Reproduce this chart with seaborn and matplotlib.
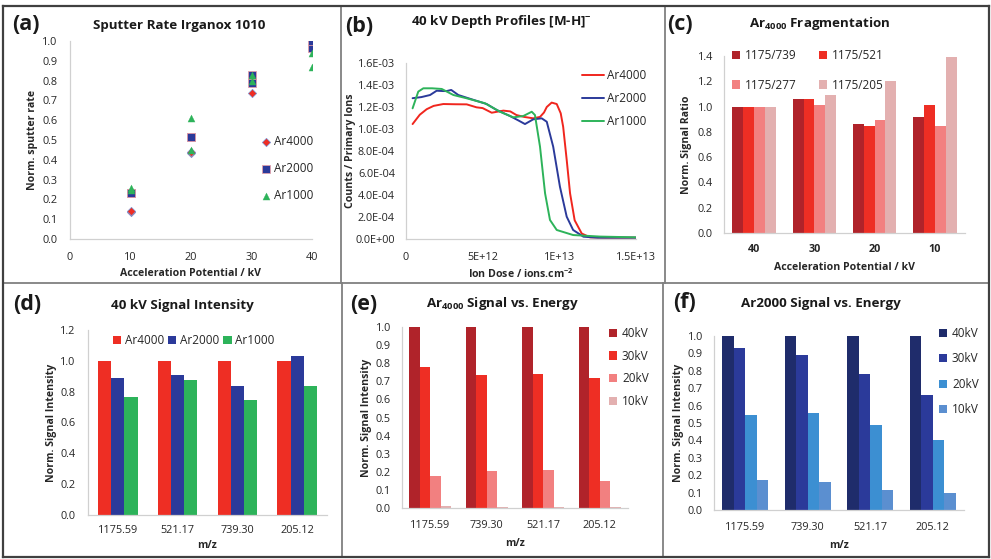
import matplotlib
matplotlib.use("Agg")
import matplotlib.pyplot as plt
import seaborn as sns
import pandas as pd
from matplotlib.ticker import FuncFormatter
from matplotlib.lines import Line2D

# ---------------- data ----------------
# (a) Sputter rate Irganox 1010
a_kv_ar4000 = [10, 10, 20, 20, 30, 40]
a_rate_ar4000 = [0.135, 0.14, 0.435, 0.44, 0.735, 1.0]
a_kv_ar2000 = [10, 10, 20, 20, 30, 30, 40, 40]
a_rate_ar2000 = [0.23, 0.23, 0.515, 0.515, 0.79, 0.83, 0.965, 1.0]
a_kv_ar1000 = [10, 10, 20, 20, 30, 30, 40, 40]
a_rate_ar1000 = [0.26, 0.25, 0.61, 0.45, 0.83, 0.80, 0.94, 0.87]

# (b) 40 kV depth profiles
b_dose_ar4000 = [0.43e12, 0.9e12, 1.35e12, 1.8e12, 2.43e12, 3.2e12, 3.96e12, 4.6e12, 5.0e12,
                 5.59e12, 6.35e12, 6.8e12, 7.2e12, 7.7e12, 8.3e12, 8.74e12, 9.0e12, 9.18e12,
                 9.5e12, 9.83e12, 10.09e12, 10.25e12, 10.48e12, 10.7e12, 11.0e12, 11.46e12,
                 12.0e12, 13.0e12, 15.0e12]
b_cnt_ar4000 = [1.045e-3, 1.13e-3, 1.18e-3, 1.21e-3, 1.227e-3, 1.225e-3, 1.224e-3, 1.197e-3, 1.19e-3,
                1.148e-3, 1.167e-3, 1.16e-3, 1.127e-3, 1.11e-3, 1.097e-3, 1.11e-3, 1.15e-3, 1.20e-3,
                1.24e-3, 1.227e-3, 1.143e-3, 1.02e-3, 0.72e-3, 0.415e-3, 0.17e-3, 0.05e-3,
                0.015e-3, 0.012e-3, 0.012e-3]
b_dose_ar2000 = [0.43e12, 1.0e12, 1.57e12, 2.0e12, 2.4e12, 2.65e12, 2.95e12, 3.41e12, 4.28e12,
                 5.26e12, 5.91e12, 6.78e12, 7.3e12, 7.76e12, 8.3e12, 8.85e12, 9.18e12, 9.6e12,
                 10.04e12, 10.48e12, 10.9e12, 11.57e12, 12.5e12, 15.0e12]
b_cnt_ar2000 = [1.28e-3, 1.29e-3, 1.309e-3, 1.348e-3, 1.345e-3, 1.345e-3, 1.355e-3, 1.309e-3, 1.27e-3,
                1.227e-3, 1.173e-3, 1.118e-3, 1.08e-3, 1.045e-3, 1.088e-3, 1.097e-3, 1.066e-3, 0.839e-3,
                0.475e-3, 0.203e-3, 0.082e-3, 0.021e-3, 0.012e-3, 0.012e-3]
b_dose_ar1000 = [0.43e12, 0.8e12, 1.13e12, 1.7e12, 2.33e12, 3.09e12, 3.96e12, 5.15e12, 6.13e12,
                 7.0e12, 7.65e12, 8.2e12, 8.41e12, 8.74e12, 9.07e12, 9.39e12, 9.83e12, 10.9e12,
                 12.65e12, 15.0e12]
b_cnt_ar1000 = [1.188e-3, 1.34e-3, 1.37e-3, 1.37e-3, 1.364e-3, 1.309e-3, 1.279e-3, 1.234e-3, 1.157e-3,
                1.106e-3, 1.118e-3, 1.157e-3, 1.127e-3, 0.839e-3, 0.415e-3, 0.173e-3, 0.082e-3, 0.036e-3,
                0.022e-3, 0.015e-3]

# (c) Ar4000 fragmentation
c_potential = ["40", "30", "20", "10"]
c_ratio_names = ["1175/739", "1175/521", "1175/277", "1175/205"]
c_1175_739 = [1.0, 1.06, 0.86, 0.92]
c_1175_521 = [1.0, 1.06, 0.85, 1.01]
c_1175_277 = [1.0, 1.01, 0.89, 0.85]
c_1175_205 = [1.0, 1.09, 1.20, 1.39]

# (d) 40 kV signal intensity
d_mz = ["1175.59", "521.17", "739.30", "205.12"]
d_clusters = ["Ar4000", "Ar2000", "Ar1000"]
d_ar4000 = [1.0, 1.0, 1.0, 1.0]
d_ar2000 = [0.89, 0.91, 0.84, 1.03]
d_ar1000 = [0.765, 0.875, 0.745, 0.835]

# (e) / (f) signal vs energy
ef_mz = ["1175.59", "739.30", "521.17", "205.12"]
ef_energies = ["40kV", "30kV", "20kV", "10kV"]
e_40kv = [1.0, 1.0, 1.0, 1.0]
e_30kv = [0.78, 0.735, 0.738, 0.718]
e_20kv = [0.179, 0.206, 0.21, 0.151]
e_10kv = [0.009, 0.008, 0.008, 0.006]
f_40kv = [1.0, 1.0, 1.0, 1.0]
f_30kv = [0.93, 0.89, 0.784, 0.66]
f_20kv = [0.544, 0.556, 0.489, 0.402]
f_10kv = [0.17, 0.161, 0.117, 0.10]

# ---------------- style ----------------
sns.set_theme(style="white")
FONT = "Open Sans"
plt.rcParams["font.family"] = [FONT, "DejaVu Sans"]
plt.rcParams["mathtext.fontset"] = "custom"
plt.rcParams["mathtext.rm"] = FONT
plt.rcParams["mathtext.it"] = FONT + ":italic"
plt.rcParams["mathtext.bf"] = FONT + ":bold"

W, H = 991, 559
fig = plt.figure(figsize=(W / 100, H / 100), dpi=100)
fig.patch.set_facecolor("white")

TXT = "#262626"
SPINE = "#D0D0D0"
TICK_FS = 7.8
LAB_FS = 7.6
TITLE_FS = 9.6
PANEL_FS = 15.5
LEG_FS = 8.5

red = "#EE2E24"
navy = "#2B3A9A"
green = "#2DB35A"
reds4 = ["#B0232A", "#EE2E24", "#F28080", "#E3B0B0"]
blues4 = ["#1F2C6B", "#2B3A9A", "#3C8FD2", "#5B8FD0"]


def ax_at(l, r, t, b):
    return fig.add_axes([l / W, 1 - b / H, (r - l) / W, (b - t) / H])


def style_ax(ax, ticks=False, ypad=6, xpad=4):
    for s in ["top", "right"]:
        ax.spines[s].set_visible(False)
    for s in ["left", "bottom"]:
        ax.spines[s].set_color(SPINE)
        ax.spines[s].set_linewidth(0.9)
    ax.tick_params(axis="both", labelsize=TICK_FS, colors=TXT, length=0)
    ax.tick_params(axis="y", pad=ypad)
    ax.tick_params(axis="x", pad=xpad)
    if ticks:
        ax.tick_params(axis="x", length=3, color=SPINE, width=0.9)
    ax.set_facecolor("white")


def labels(ax, xl, yl, xoff, yoff, axw, axh):
    ax.set_xlabel(xl, fontsize=LAB_FS, fontweight="bold", color=TXT, va="center")
    ax.set_ylabel(yl, fontsize=LAB_FS, fontweight="bold", color=TXT, va="center")
    ax.xaxis.set_label_coords(0.5, -xoff / axh)
    ax.yaxis.set_label_coords(-yoff / axw, 0.5)


def ftext(x, y, s, **kw):
    fig.text(x / W, 1 - y / H, s, ha="center", va="center", color="#1A1A1A", **kw)


def place_legend(ax, handles, labs, x, y, **kw):
    leg = ax.legend(handles, labs, loc="upper left", bbox_to_anchor=(x / W, 1 - y / H),
                    bbox_transform=fig.transFigure, frameon=False, borderpad=0,
                    borderaxespad=0, fontsize=LEG_FS, **kw)
    for t in leg.get_texts():
        t.set_color(TXT)
    return leg


# ---------------- (a) ----------------
ax = ax_at(70, 312, 41, 239)
sns.scatterplot(x=a_kv_ar4000, y=a_rate_ar4000, marker="D", s=18, color=red,
                edgecolor="#7A97D6", linewidth=0.5, label="Ar4000", ax=ax, zorder=3)
sns.scatterplot(x=a_kv_ar2000, y=a_rate_ar2000, marker="s", s=26, color=navy,
                edgecolor="#E8A0A8", linewidth=0.55, label="Ar2000", ax=ax, zorder=4)
sns.scatterplot(x=a_kv_ar1000, y=a_rate_ar1000, marker="^", s=26, color=green,
                edgecolor=green, linewidth=0.2, label="Ar1000", ax=ax, zorder=5)
ax.set_xlim(0, 40)
ax.set_ylim(0, 1.0)
ax.set_xticks([0, 10, 20, 30, 40])
ax.set_yticks([i / 10 for i in range(11)])
ax.yaxis.set_major_formatter(FuncFormatter(lambda v, p: f"{v:.1f}"))
style_ax(ax, ticks=True, ypad=9, xpad=6)
labels(ax, "Acceleration Potential / kV", "Norm. sputter rate", 35, 38, 242, 198)
h, l = ax.get_legend_handles_labels()
place_legend(ax, h, l, 262, 135, handlelength=0.6, handletextpad=0.4, labelspacing=1.2)
ftext(179, 25, "Sputter Rate Irganox 1010", fontsize=TITLE_FS, fontweight="bold")
ftext(26, 24, "(a)", fontsize=PANEL_FS, fontweight="bold")

# ---------------- (b) ----------------
ax = ax_at(406, 636, 63, 239)
df_b = pd.concat([
    pd.DataFrame({"dose": b_dose_ar4000, "counts": b_cnt_ar4000, "cluster": "Ar4000"}),
    pd.DataFrame({"dose": b_dose_ar2000, "counts": b_cnt_ar2000, "cluster": "Ar2000"}),
    pd.DataFrame({"dose": b_dose_ar1000, "counts": b_cnt_ar1000, "cluster": "Ar1000"}),
])
sns.lineplot(data=df_b, x="dose", y="counts", hue="cluster",
             palette={"Ar4000": "#F0261E", "Ar2000": "#2B3A9A", "Ar1000": "#2DB35A"},
             linewidth=1.4, ax=ax, sort=False, estimator=None)
ax.set_xlim(0, 1.5e13)
ax.set_ylim(0, 1.6e-3)
ax.set_xticks([0, 5e12, 1e13, 1.5e13])
ax.set_yticks([i * 0.2e-3 for i in range(9)])
ax.xaxis.set_major_formatter(FuncFormatter(lambda v, p: "0" if v == 0 else f"{v:G}"))
ax.yaxis.set_major_formatter(FuncFormatter(lambda v, p: f"{v:.1E}"))
style_ax(ax, ticks=True, ypad=8, xpad=6)
labels(ax, r"Ion Dose / ions.cm$^{\mathbf{-2}}$", "Counts / Primary Ions", 35, 55, 230, 176)
h, l = ax.get_legend_handles_labels()
place_legend(ax, h, l, 582, 69, handlelength=1.9, handletextpad=0.2, labelspacing=0.85)
ftext(501, 22, r"40 kV Depth Profiles [M-H]$^{\mathbf{-}}$", fontsize=TITLE_FS, fontweight="bold")
ftext(359, 26, "(b)", fontsize=PANEL_FS, fontweight="bold")

# ---------------- (c) ----------------
ax = ax_at(724, 965, 56, 233)
df_c = pd.concat([
    pd.DataFrame({"kv": c_potential, "ratio": c_1175_739, "pair": c_ratio_names[0]}),
    pd.DataFrame({"kv": c_potential, "ratio": c_1175_521, "pair": c_ratio_names[1]}),
    pd.DataFrame({"kv": c_potential, "ratio": c_1175_277, "pair": c_ratio_names[2]}),
    pd.DataFrame({"kv": c_potential, "ratio": c_1175_205, "pair": c_ratio_names[3]}),
])
sns.barplot(data=df_c, x="kv", y="ratio", hue="pair", order=c_potential,
            hue_order=c_ratio_names, palette=reds4, saturation=1, width=0.72,
            linewidth=0, ax=ax)
ax.set_ylim(0, 1.4)
ax.set_yticks([i * 0.2 for i in range(8)])
ax.yaxis.set_major_formatter(FuncFormatter(lambda v, p: f"{v:.1f}"))
style_ax(ax, ypad=8, xpad=8)
for t in ax.get_xticklabels():
    t.set_fontweight("bold")
labels(ax, "Acceleration Potential / kV", "Norm. Signal Ratio", 35, 37, 241, 177)
h, l = ax.get_legend_handles_labels()
order_c = [0, 2, 1, 3]  # row-wise reading order in a 2-column legend
place_legend(ax, [h[i] for i in order_c], [l[i] for i in order_c], 732, 49, ncol=2,
             handlelength=0.7, handleheight=0.7, handletextpad=0.4, labelspacing=1.4,
             columnspacing=1.9)
ftext(820, 23, r"$\mathbf{Ar_{4000}}$ Fragmentation", fontsize=TITLE_FS, fontweight="bold")
ftext(680, 25, "(c)", fontsize=PANEL_FS, fontweight="bold")

# ---------------- (d) ----------------
ax = ax_at(88, 327, 330, 515)
df_d = pd.concat([
    pd.DataFrame({"mz": d_mz, "val": d_ar4000, "cluster": "Ar4000"}),
    pd.DataFrame({"mz": d_mz, "val": d_ar2000, "cluster": "Ar2000"}),
    pd.DataFrame({"mz": d_mz, "val": d_ar1000, "cluster": "Ar1000"}),
])
sns.barplot(data=df_d, x="mz", y="val", hue="cluster", order=d_mz, hue_order=d_clusters,
            palette=[red, navy, green], saturation=1, width=0.66, linewidth=0, ax=ax)
ax.set_ylim(0, 1.2)
ax.set_yticks([i * 0.2 for i in range(7)])
ax.yaxis.set_major_formatter(FuncFormatter(lambda v, p: f"{v:.1f}"))
style_ax(ax, ypad=9, xpad=7)
labels(ax, "m/z", "Norm. Signal Intensity", 31, 36, 239, 185)
h, l = ax.get_legend_handles_labels()
place_legend(ax, h, l, 113, 334, ncol=3, handlelength=0.7, handleheight=0.7,
             handletextpad=0.3, columnspacing=0.35)
ftext(182, 305, "40 kV Signal Intensity", fontsize=TITLE_FS, fontweight="bold")
ftext(27, 304, "(d)", fontsize=PANEL_FS, fontweight="bold")

# ---------------- (e) ----------------
ax = ax_at(402, 628, 327, 508)
df_e = pd.concat([
    pd.DataFrame({"mz": ef_mz, "val": e_40kv, "energy": "40kV"}),
    pd.DataFrame({"mz": ef_mz, "val": e_30kv, "energy": "30kV"}),
    pd.DataFrame({"mz": ef_mz, "val": e_20kv, "energy": "20kV"}),
    pd.DataFrame({"mz": ef_mz, "val": e_10kv, "energy": "10kV"}),
])
sns.barplot(data=df_e, x="mz", y="val", hue="energy", order=ef_mz, hue_order=ef_energies,
            palette=reds4, saturation=1, width=0.735, linewidth=0, ax=ax)
ax.set_ylim(0, 1.0)
ax.set_yticks([i / 10 for i in range(11)])
ax.yaxis.set_major_formatter(FuncFormatter(lambda v, p: f"{v:.1f}"))
style_ax(ax, ypad=8, xpad=9)
labels(ax, "m/z", "Norm. Signal Intensity", 36, 35, 226, 181)
h, l = ax.get_legend_handles_labels()
place_legend(ax, h, l, 609, 327, handlelength=0.7, handleheight=0.7,
             handletextpad=0.4, labelspacing=0.82)
ftext(503, 304, r"$\mathbf{Ar_{4000}}$ Signal vs. Energy", fontsize=TITLE_FS, fontweight="bold")
ftext(364, 304, "(e)", fontsize=PANEL_FS, fontweight="bold")

# ---------------- (f) ----------------
ax = ax_at(714, 964, 336, 510)
df_f = pd.concat([
    pd.DataFrame({"mz": ef_mz, "val": f_40kv, "energy": "40kV"}),
    pd.DataFrame({"mz": ef_mz, "val": f_30kv, "energy": "30kV"}),
    pd.DataFrame({"mz": ef_mz, "val": f_20kv, "energy": "20kV"}),
    pd.DataFrame({"mz": ef_mz, "val": f_10kv, "energy": "10kV"}),
])
sns.barplot(data=df_f, x="mz", y="val", hue="energy", order=ef_mz, hue_order=ef_energies,
            palette=blues4, saturation=1, width=0.73, linewidth=0, ax=ax)
ax.set_ylim(0, 1.0)
ax.set_yticks([i / 10 for i in range(11)])
ax.yaxis.set_major_formatter(FuncFormatter(lambda v, p: f"{v:.1f}"))
style_ax(ax, ypad=8, xpad=9)
labels(ax, "m/z", "Norm. Signal Intensity", 36, 36, 250, 174)
h, l = ax.get_legend_handles_labels()
place_legend(ax, h, l, 939, 327, handlelength=0.7, handleheight=0.7,
             handletextpad=0.4, labelspacing=1.05)
ftext(821, 303, "Ar2000 Signal vs. Energy", fontsize=TITLE_FS, fontweight="bold")
ftext(684, 303, "(f)", fontsize=PANEL_FS, fontweight="bold")

# ---------------- frame & separators ----------------
def seg(x0, y0, x1, y1, color, lw):
    fig.add_artist(Line2D([x0 / W, x1 / W], [1 - y0 / H, 1 - y1 / H],
                          transform=fig.transFigure, color=color, lw=lw,
                          solid_capstyle="projecting"))

seg(341, 6, 341, 283, "#808080", 1.3)
seg(665, 6, 665, 283, "#808080", 1.3)
seg(342, 283, 342, 557, "#808080", 1.3)
seg(663, 283, 663, 557, "#808080", 1.3)
seg(3, 283, 989, 283, "#808080", 1.3)
seg(3, 6, 989, 6, "#404040", 1.6)
seg(3, 557, 989, 557, "#404040", 1.6)
seg(3, 6, 3, 557, "#404040", 1.6)
seg(989, 6, 989, 557, "#404040", 1.6)

fig.savefig("out.png", dpi=100, facecolor="white")
